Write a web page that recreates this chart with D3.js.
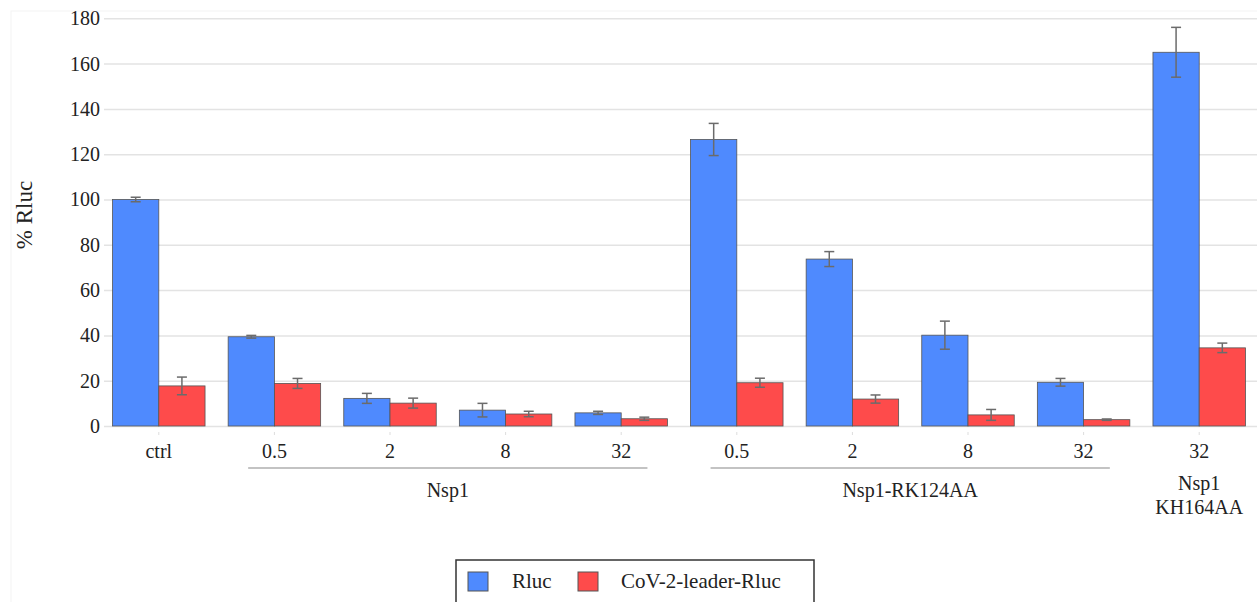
<!DOCTYPE html>
<html>
<head>
<meta charset="utf-8">
<script src="https://cdn.jsdelivr.net/npm/d3@7"></script>
<style>
  body { margin: 0; background: #fff; }
  svg { display: block; }
  svg text { font-family: "Liberation Serif", "Times New Roman", serif; }
</style>
</head>
<body>
<svg></svg>
<script>
// data
const categories = ['ctrl', '0.5', '2', '8', '32', '0.5', '2', '8', '32', '32'];
const rluc       = [100, 39.4, 12.2, 7.0, 5.8, 126.5, 73.7, 40.1, 19.3, 165];
const rlucErr    = [1.0, 0.6, 2.2, 3.0, 0.7, 7.1, 3.3, 6.2, 1.7, 11];
const leader     = [17.7, 18.8, 10.1, 5.3, 3.2, 19.1, 11.9, 4.9, 2.8, 34.5];
const leaderErr  = [3.9, 2.2, 2.2, 1.2, 0.7, 2.0, 1.8, 2.4, 0.3, 2.1];
const groupNames = ['Nsp1', 'Nsp1-RK124AA'];
const groupSpans = [[1, 4], [5, 8]];
const lastLabel  = ['Nsp1', 'KH164AA'];
const seriesNames = ['Rluc', 'CoV-2-leader-Rluc'];
const colors = ['#4f8afe', '#fe4b4b'];
const yTicks = [0, 20, 40, 60, 80, 100, 120, 140, 160, 180];

let w = 1257;
let h = 602;
const font = '"Liberation Serif", "Times New Roman", serif';

const svg = d3.select('svg')
  .attr('width', w)
  .attr('height', h)
  .attr('font-family', font)

// faint frame
svg.append('rect')
  .attr('x', 11).attr('y', 11)
  .attr('width', w + 10).attr('height', h + 10)
  .attr('fill', 'none')
  .attr('stroke', '#f4f4f4')

// Scales
const x = d3.scaleBand()
  .domain(d3.range(categories.length))
  .range([101, 1257])
  .paddingInner(0.2)
  .paddingOuter(0.1)

const sub = d3.scaleBand()
  .domain([0, 1])
  .range([0, x.bandwidth()])

const y = d3.scaleLinear()
  .domain([0, 180])
  .range([426, 18.3])

// Grid + y labels
const yAxis = d3.axisLeft(y)
  .tickValues(yTicks)
  .tickSize(-(w - 104))
  .tickPadding(6)

const yg = svg.append('g')
  .attr('transform', 'translate(104,0)')
  .call(yAxis)
  .attr('font-family', font)
  .attr('font-size', '20px')
yg.select('.domain').remove()
yg.selectAll('.tick line').attr('stroke', '#e3e3e3').attr('stroke-width', 1.5)
yg.selectAll('.tick text')
  .attr('fill', '#222')
  .attr('x', -4)

svg.append('text')
  .attr('transform', 'translate(32,215) rotate(-90)')
  .attr('text-anchor', 'middle')
  .attr('font-size', '23px')
  .attr('fill', '#222')
  .text('% Rluc')

// Bars
const series = [rluc, leader];
const errs = [rlucErr, leaderErr];

series.forEach((vals, s) => {
  svg.append('g').selectAll('rect')
    .data(vals)
    .enter()
    .append('rect')
    .attr('x', (d, i) => x(i) + sub(s))
    .attr('y', d => y(d))
    .attr('width', sub.bandwidth())
    .attr('height', d => y(0) - y(d))
    .attr('fill', colors[s])
    .attr('stroke', '#555')
    .attr('stroke-width', 0.8)
})

// Error bars
series.forEach((vals, s) => {
  const g = svg.append('g').attr('stroke', '#6b6b6b').attr('stroke-width', 1.5)
  vals.forEach((v, i) => {
    const cx = x(i) + sub(s) + sub.bandwidth() / 2;
    const e = errs[s][i];
    g.append('line').attr('x1', cx).attr('x2', cx).attr('y1', y(v + e)).attr('y2', y(v - e))
    g.append('line').attr('x1', cx - 5).attr('x2', cx + 5).attr('y1', y(v + e)).attr('y2', y(v + e))
    g.append('line').attr('x1', cx - 5).attr('x2', cx + 5).attr('y1', y(v - e)).attr('y2', y(v - e))
  })
})

// x ticks & category labels
categories.forEach((c, i) => {
  const cx = x(i) + x.bandwidth() / 2;
  svg.append('line')
    .attr('x1', cx).attr('x2', cx)
    .attr('y1', 432).attr('y2', 435)
    .attr('stroke', '#ddd')
  svg.append('text')
    .attr('x', cx)
    .attr('y', 458)
    .attr('text-anchor', 'middle')
    .attr('font-size', '20px')
    .attr('fill', '#222')
    .text(c)
})

// group labels
groupNames.forEach((name, k) => {
  const [a, b] = groupSpans[k];
  const x1 = x(a) + 20;
  const x2 = x(b) + x.bandwidth() - 20;
  svg.append('line')
    .attr('x1', x1).attr('x2', x2)
    .attr('y1', 468).attr('y2', 468)
    .attr('stroke', '#888')
    .attr('stroke-width', 1.2)
  svg.append('text')
    .attr('x', (x1 + x2) / 2)
    .attr('y', 497)
    .attr('text-anchor', 'middle')
    .attr('font-size', '20px')
    .attr('fill', '#222')
    .text(name)
})

// last category: Nsp1 KH164AA
const lastX = x(9) + x.bandwidth() / 2;
lastLabel.forEach((t, j) => {
  svg.append('text')
    .attr('x', lastX)
    .attr('y', 490 + j * 24)
    .attr('text-anchor', 'middle')
    .attr('font-size', '20px')
    .attr('fill', '#222')
    .text(t)
})

// Legend
const lg = svg.append('g')
lg.append('rect')
  .attr('x', 456).attr('y', 560)
  .attr('width', 358).attr('height', 60)
  .attr('fill', '#fff')
  .attr('stroke', '#333')
  .attr('stroke-width', 1.5)

const legX = [468, 578];
const legTx = [512, 621];
seriesNames.forEach((n, s) => {
  lg.append('rect')
    .attr('x', legX[s]).attr('y', 572)
    .attr('width', 20).attr('height', 19)
    .attr('fill', colors[s])
    .attr('stroke', '#555')
  lg.append('text')
    .attr('x', legTx[s]).attr('y', 588)
    .attr('font-size', '21px')
    .attr('fill', '#222')
    .text(n)
})
</script>
</body>
</html>
